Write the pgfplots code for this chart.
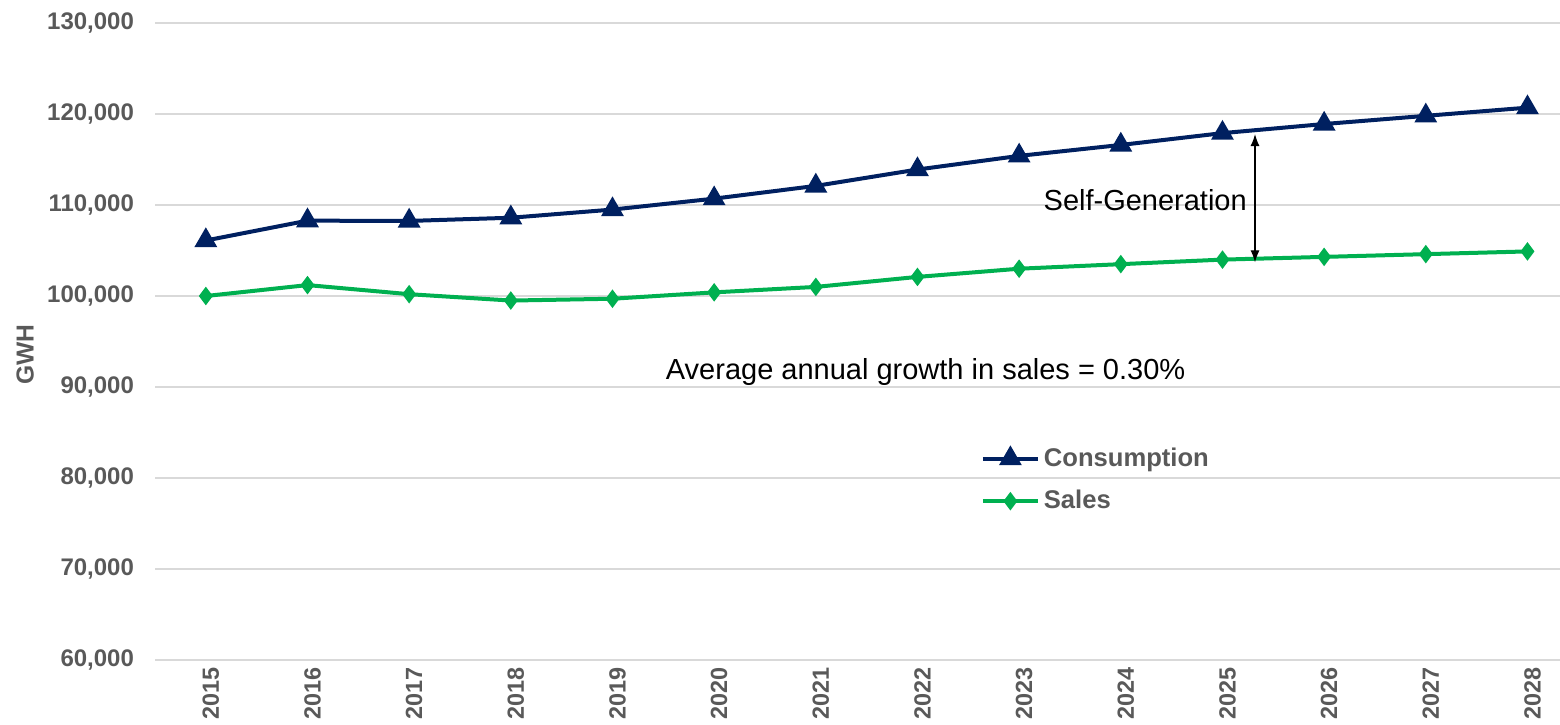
\documentclass[border=0pt]{standalone}
\usepackage{pgfplots}
\pgfplotsset{compat=1.18}
\usetikzlibrary{arrows.meta}
\usepackage{fontspec}
\setmainfont{Liberation Sans}
\definecolor{navy}{RGB}{0,32,96}
\definecolor{grn}{RGB}{0,176,80}
\definecolor{txt}{RGB}{89,89,89}
\definecolor{grd}{RGB}{217,217,217}
\begin{document}
\begin{tikzpicture}[x=1pt,y=1pt]
\useasboundingbox (0,0) rectangle (780,362);
\begin{axis}[
  at={(77.5pt,32pt)}, anchor=south west,
  scale only axis, width=702.5pt, height=318.5pt,
  xmin=2014.5, xmax=2028.32, ymin=60000, ymax=130000,
  axis line style={draw=none},
  major tick length=0pt,
  ytick={60000,70000,80000,90000,100000,110000,120000,130000},
  yticklabels={{60,000},{70,000},{80,000},{90,000},{100,000},{110,000},{120,000},{130,000}},
  ymajorgrids, major grid style={grd, line width=0.6pt},
  xtick={2015,2016,2017,2018,2019,2020,2021,2022,2023,2024,2025,2026,2027,2028},
  xticklabels={2015,2016,2017,2018,2019,2020,2021,2022,2023,2024,2025,2026,2027,2028},
  scaled y ticks=false,
  x tick label style={rotate=90, anchor=east, yshift=-2.5pt, font=\bfseries\fontsize{11.7}{12}\selectfont, text=txt},
  y tick label style={xshift=-7pt, font=\bfseries\fontsize{12}{12}\selectfont, text=txt},
  ylabel={GWH},
  every axis y label/.style={at={(axis description cs:-0.0925,0.479)}, rotate=90, anchor=center, font=\bfseries\fontsize{12.3}{12}\selectfont, text=txt},
  legend style={at={(axis cs:2022.62,83800)}, anchor=north west, draw=none, fill=none,
    font=\bfseries\fontsize{12.8}{14}\selectfont, text=txt, row sep=6.5pt, inner sep=0pt,
    nodes={inner xsep=2pt}},
  legend cell align=left,
  legend image code/.code={\draw[mark repeat=2,mark phase=2] plot coordinates {(0pt,0pt)(13.75pt,0pt)(27.5pt,0pt)};},
]
\addplot[navy, line width=2pt, mark=triangle*, mark size=4.6pt, mark options={solid}] coordinates {
(2015,106100) (2016,108280) (2017,108250) (2018,108600) (2019,109500) (2020,110700) (2021,112100)
(2022,113900) (2023,115400) (2024,116600) (2025,117900) (2026,118900) (2027,119800) (2028,120700)};
\addlegendentry{Consumption}
\addplot[grn, line width=2pt, mark=diamond*, mark size=3pt] coordinates {
(2015,100000) (2016,101200) (2017,100200) (2018,99500) (2019,99700) (2020,100400) (2021,101000)
(2022,102100) (2023,103000) (2024,103500) (2025,104000) (2026,104300) (2027,104600) (2028,104900)};
\addlegendentry{Sales}
\draw[{Latex[length=6pt,width=4.5pt]}-{Latex[length=6pt,width=4.5pt]}, line width=0.6pt, black] (axis cs:2025.32,117800) -- (axis cs:2025.32,103700);
\node[font=\fontsize{14.5}{16}\selectfont, text=black] at (axis cs:2024.24,110500) {Self-Generation};
\node[font=\fontsize{14.5}{16}\selectfont, text=black] at (axis cs:2022.08,91600) {Average annual growth in sales = 0.30\%};
\end{axis}
\end{tikzpicture}
\end{document}
